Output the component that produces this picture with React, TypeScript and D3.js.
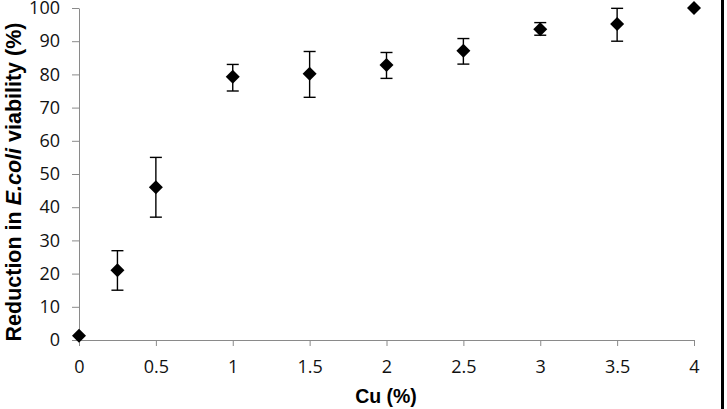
import React, { useEffect, useRef } from 'react'
import * as d3 from 'd3'

const cuLevels = [0, 0.25, 0.5, 1, 1.5, 2, 2.5, 3, 3.5, 4]
const reduction = [1.3, 21, 46, 79.3, 80.2, 82.8, 87.1, 93.6, 95.2, 100]
const errLow = [null, 15, 37, 75, 73.1, 78.8, 83.1, 91.8, 90, null]
const errHigh = [null, 26.9, 55, 83, 86.9, 86.6, 90.8, 95.6, 99.9, null]
const xTicks = [0, 0.5, 1, 1.5, 2, 2.5, 3, 3.5, 4]
const yTicks = [0, 10, 20, 30, 40, 50, 60, 70, 80, 90, 100]

const W = 727
const H = 409

const App = () => {
    const ref = useRef<SVGSVGElement>(null)

    useEffect(() => {
        const svg = d3.select(ref.current)
        svg.selectAll('*').remove()

        const x = d3.scaleLinear().domain([0, 4]).range([79, 694])
        const y = d3.scaleLinear().domain([0, 100]).range([340, 8])
        const axisColor = '#8a8a8a'
        const tickFont = '"Open Sans", sans-serif'

        svg.append('rect').attr('width', W).attr('height', H).attr('fill', '#fff')

        // y axis
        const gy = svg.append('g')
            .attr('transform', `translate(${x(0)},0)`)
            .call(d3.axisLeft(y).tickValues(yTicks).tickSize(7).tickPadding(12).tickSizeOuter(0))
        gy.select('.domain').attr('stroke', axisColor)
        gy.selectAll('.tick line').attr('stroke', axisColor)
        gy.selectAll('.tick text')
            .attr('font-family', tickFont)
            .attr('font-size', 18)
            .attr('fill', '#111')

        // x axis
        const gx = svg.append('g')
            .attr('transform', `translate(0,${y(0)})`)
            .call(d3.axisBottom(x).tickValues(xTicks).tickFormat(d3.format('')).tickSize(6).tickPadding(14).tickSizeOuter(0))
        gx.select('.domain').attr('stroke', axisColor)
        gx.selectAll('.tick line').attr('stroke', axisColor)
        gx.selectAll('.tick text')
            .attr('font-family', tickFont)
            .attr('font-size', 18)
            .attr('fill', '#111')

        // error bars
        const bars = cuLevels.map((c, i) => ({ c, lo: errLow[i], hi: errHigh[i] })).filter(d => d.lo !== null)
        const eb = svg.append('g').attr('stroke', '#000').attr('stroke-width', 1.4)
        bars.forEach(d => {
            eb.append('line').attr('x1', x(d.c)).attr('x2', x(d.c)).attr('y1', y(d.lo)).attr('y2', y(d.hi))
            eb.append('line').attr('x1', x(d.c) - 6).attr('x2', x(d.c) + 6).attr('y1', y(d.lo)).attr('y2', y(d.lo))
            eb.append('line').attr('x1', x(d.c) - 6).attr('x2', x(d.c) + 6).attr('y1', y(d.hi)).attr('y2', y(d.hi))
        })

        // markers
        const diamond = d3.symbol(d3.symbolDiamond2, 125)
        svg.append('g')
            .selectAll('path')
            .data(cuLevels.map((c, i) => ({ c, v: reduction[i] })))
            .join('path')
            .attr('d', diamond)
            .attr('transform', d => `translate(${x(d.c)},${y(d.v)})`)
            .attr('fill', '#000')

        // axis titles
        svg.append('text')
            .attr('x', 386)
            .attr('y', 403)
            .attr('text-anchor', 'middle')
            .attr('font-family', '"Liberation Sans", Arial, sans-serif')
            .attr('font-weight', 'bold')
            .attr('font-size', 19.5)
            .text('Cu (%)')

        const yt = svg.append('text')
            .attr('transform', 'translate(21,182) rotate(-90)')
            .attr('text-anchor', 'middle')
            .attr('font-family', '"Liberation Sans", Arial, sans-serif')
            .attr('font-weight', 'bold')
            .attr('font-size', 21.5)
        yt.append('tspan').text('Reduction in ')
        yt.append('tspan').attr('font-style', 'italic').text('E.coli')
        yt.append('tspan').text(' viability (%)')

        // right frame edge
        svg.append('line')
            .attr('x1', 722.5).attr('x2', 722.5)
            .attr('y1', 0).attr('y2', H)
            .attr('stroke', '#000')
            .attr('stroke-width', 3)
    }, [])

    return (
        <svg ref={ref} width={W} height={H} style={{ position: 'absolute', left: 0, top: 0 }} />
    )
}

export default App
